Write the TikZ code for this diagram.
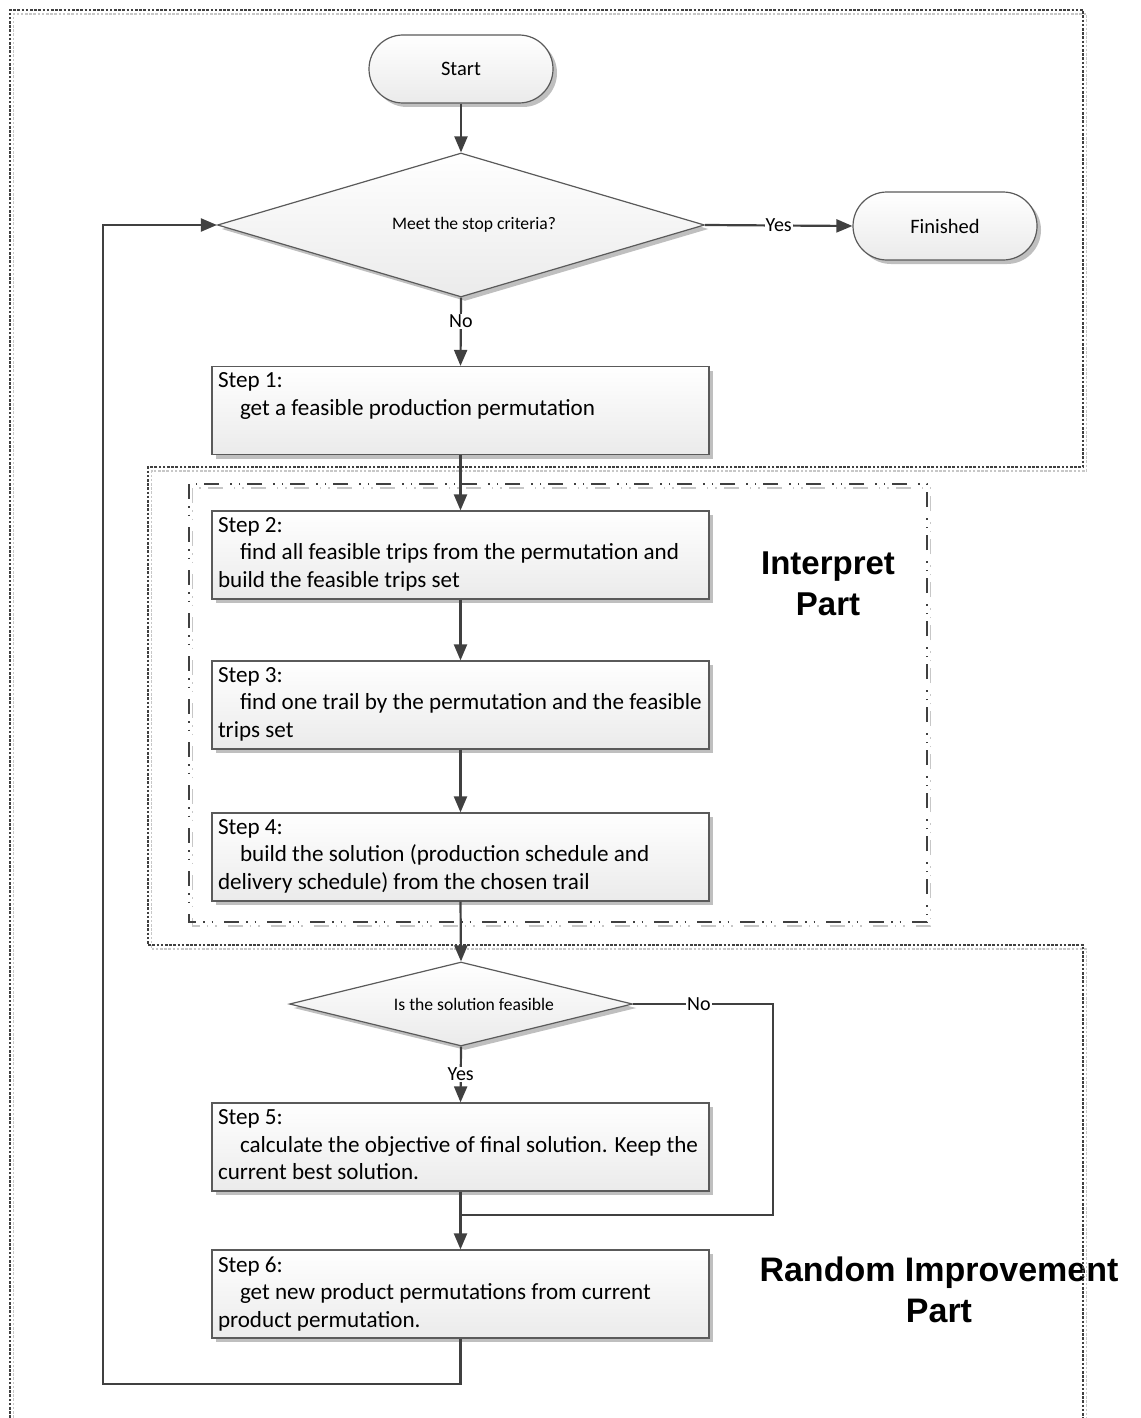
\documentclass[tikz,border=0pt]{standalone}
\usepackage{fontspec}
\setmainfont{Carlito}
\newfontfamily\headfont{Liberation Sans}
\usetikzlibrary{shapes.geometric,shapes.misc,arrows.meta,shadows}

\definecolor{linec}{HTML}{404040}
\definecolor{edgec}{HTML}{5A5A5A}

% step box body: fixed-size top-aligned block, lines set by hand
\newcommand\stepcontent[1]{\parbox[t][75pt][t]{485pt}{#1}}
\newcommand\ind{\hspace*{22pt}}
% decision text sits a little right of the diamond centre
\newcommand\dtext[1]{\hspace*{26pt}#1}

\begin{document}
\begin{tikzpicture}[x=1pt,y=-1pt,
  conn/.style={draw=linec, line width=2.2pt},
  arr/.style={conn, -{Triangle[length=16pt,width=13pt]}},
  boxlook/.style={top color=white, bottom color=black!8, draw=edgec, line width=1.2pt,
     drop shadow={shadow xshift=4pt, shadow yshift=-4pt, fill=black!25, opacity=1}},
  terminal/.style={boxlook, rounded rectangle, minimum width=184pt, minimum height=68pt,
     inner sep=0pt, font=\fontsize{20.5}{24}\selectfont},
  decision/.style={boxlook, diamond, inner sep=0pt, font=\fontsize{17.6}{21}\selectfont},
  stepbox/.style={boxlook, rectangle, inner xsep=6pt, inner ysep=6.5pt,
     font=\fontsize{23.1}{27.5}\selectfont},
  lbl/.style={fill=white, inner sep=1pt, font=\fontsize{20}{23}\selectfont},
  heading/.style={font=\headfont\bfseries\fontsize{33}{40.5}\selectfont, align=center},
  partframe/.style={draw=linec, line width=1.4pt, dash pattern=on 2.6pt off 1.6pt},
  partshadow/.style={draw=black!22, line width=1.4pt, dash pattern=on 2.6pt off 1.6pt},
  ddframe/.style={draw=linec, line width=1.4pt,
     dash pattern=on 15pt off 7pt on 1.5pt off 7pt on 1.5pt off 11pt},
  ddshadow/.style={draw=black!22, line width=1.4pt,
     dash pattern=on 15pt off 7pt on 1.5pt off 7pt on 1.5pt off 11pt},
]
\useasboundingbox (0,0) rectangle (1140,1418);

% part headings
\node[heading] (hint) at (828,584) {Interpret\\Part};
\node[heading, font=\headfont\bfseries\fontsize{34}{41}\selectfont] (hrand) at (939,1290)
  {Random Improvement\\Part};

% part frames (with their light offset copies)
\begin{scope}[xshift=3.5pt, yshift=-4pt]
  \draw[partshadow] (10,1418) -- (10,10) -- (1083,10) -- (1083,467) -- (148,467)
        -- (148,945) -- (1083,945) -- (1083,1418);
  \draw[ddshadow] (189,484) rectangle (927,922);
\end{scope}
\draw[partframe] (10,1418) -- (10,10) -- (1083,10) -- (1083,467) -- (148,467)
      -- (148,945) -- (1083,945) -- (1083,1418);
\draw[ddframe] (189,484) rectangle (927,922);

% nodes
\node[terminal] (start) at (461,69) {Start};
\node[decision, shape aspect=3.4, minimum width=487pt, minimum height=144pt] (d1)
  at (461,225) {\dtext{Meet the stop criteria?}};
\node[terminal] (fin) at (945,226) {Finished};

\node[stepbox] (s1) at (460.5,410.5) {\stepcontent{%
  \mbox{Step 1:}\\\mbox{\ind get a feasible production permutation}}};
\node[stepbox] (s2) at (460.5,555) {\stepcontent{%
  \mbox{Step 2:}\\\mbox{\ind find all feasible trips from the permutation and}\\
  \mbox{build the feasible trips set}}};
\node[stepbox] (s3) at (460.5,705) {\stepcontent{%
  \mbox{Step 3:}\\\mbox{\ind find one trail by the permutation and the feasible}\\
  \mbox{trips set}}};
\node[stepbox] (s4) at (460.5,857) {\stepcontent{%
  \mbox{Step 4:}\\\mbox{\ind build the solution (production schedule and}\\
  \mbox{delivery schedule) from the chosen trail}}};

\node[decision, shape aspect=4.1, minimum width=343pt, minimum height=84pt] (d2)
  at (461,1004) {\dtext{Is the solution feasible}};

\node[stepbox] (s5) at (460.5,1147) {\stepcontent{%
  \mbox{Step 5:}\\\mbox{\ind calculate the objective of final solution. Keep the}\\
  \mbox{current best solution.}}};
\node[stepbox] (s6) at (460.5,1294) {\stepcontent{%
  \mbox{Step 6:}\\\mbox{\ind get new product permutations from current}\\
  \mbox{product permutation.}}};

% helper points for the routed connectors
\coordinate (noturn) at (773,1004);
\coordinate (merge) at (461,1215);
\coordinate (loopcorner) at (103,1384);

% connectors
\draw[arr] (start.south) -- (d1.north);
\draw[arr] (d1.east) -- node[lbl] {Yes} (fin.west);
\draw[arr] (d1.south) -- node[lbl, pos=0.35] {No} (s1.north);
\draw[arr] (s1.south) -- (s2.north);
\draw[arr] (s2.south) -- (s3.north);
\draw[arr] (s3.south) -- (s4.north);
\draw[arr] (s4.south) -- (d2.north);
\draw[arr] (d2.south) -- node[lbl] {Yes} (s5.north);
\draw[conn] (d2.east) -- node[lbl, pos=0.47] {No} (noturn) |- (merge);
\draw[arr] (s5.south) -- (s6.north);
\draw[arr] (s6.south) |- (loopcorner) |- (d1.west);
\end{tikzpicture}
\end{document}
